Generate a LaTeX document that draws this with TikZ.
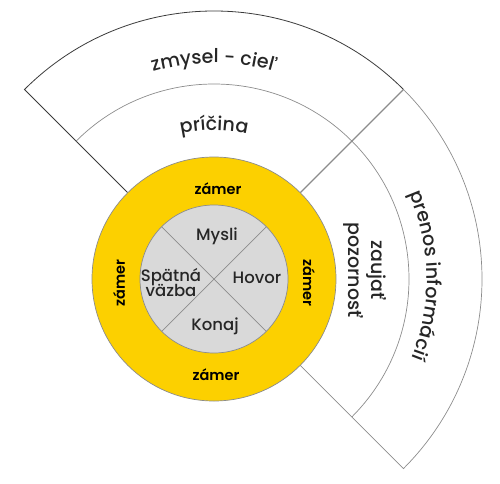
\documentclass[tikz,border=0pt]{standalone}
\usepackage{fontspec}
\setmainfont{Poppins}[UprightFont=* Medium, BoldFont=* SemiBold]
\usepackage{tikz}
\usetikzlibrary{decorations.text}
\definecolor{ringyellow}{HTML}{FCD000}
\definecolor{coregray} {HTML}{D9D9D9}
\definecolor{edgegray} {HTML}{8C8C8C}
\definecolor{edgedark} {HTML}{3A3A3A}
\definecolor{darktext} {HTML}{262626}
\newcommand{\bandfont}{\fontsize{19}{23}\selectfont}
\newcommand{\corefont}{\fontsize{16.5}{18}\selectfont}
\newcommand{\ringfont}{\fontsize{14.5}{17}\selectfont\bfseries}
\tikzset{
  darkedge/.style={draw=edgedark, line width=0.8pt},
  grayedge/.style={draw=edgegray, line width=0.7pt},
  ringdisc/.style={fill=ringyellow, draw=edgegray, line width=0.7pt},
  coredisc/.style={fill=coregray, draw=edgegray, line width=0.7pt},
  corelabel/.style={font=\corefont, text=darktext, align=center, inner sep=0pt},
  ringlabel/.style={font=\ringfont, text=black, inner sep=0pt},
  bandlabel/.style={font=\bandfont, text=darktext, align=center, inner sep=0pt}
}

\begin{document}
\begin{tikzpicture}[x=1pt, y=1pt]
  \useasboundingbox (-214,-204) rectangle (286,279);

  % outer bands
  \draw[darkedge] (135:122) -- (135:268) arc[start angle=135, end angle=45, radius=268];
  \draw[grayedge, line width=1.2pt] (45:268) -- (45:122);
  \draw[grayedge] (135:195) arc[start angle=135, end angle=45, radius=195];
  \draw[grayedge] (45:268) arc[start angle=45, end angle=-45, radius=268] -- (-45:122);
  \draw[grayedge] (45:195) arc[start angle=45, end angle=-45, radius=195];

  \path[decorate, decoration={text along path, text align=center,
        text={|\bandfont\color{darktext}|zmysel - cieľ}}]
    (150:216) arc[start angle=150, end angle=30, radius=216];
  \path[decorate, decoration={text along path, text align=center,
        text={|\bandfont\color{darktext}|príčina}}]
    (125:149) arc[start angle=125, end angle=55, radius=149];
  \path[decorate, decoration={text along path, text align=center,
        text={|\bandfont\color{darktext}|prenos informácií}}]
    (42:213) arc[start angle=42, end angle=-40, radius=213];
  \node[bandlabel, rotate=-90] (attention) at (151,9) {zaujať\\pozornosť};

  % ring and core
  \draw[ringdisc] (0,0) circle[radius=122];
  \draw[coredisc] (0,0) circle[radius=74];
  \draw[grayedge] (135:74) -- (-45:74);
  \draw[grayedge] (45:74) -- (225:74);

  \node[ringlabel] (intentN) at (4,90) {zámer};
  \node[ringlabel] (intentS) at (2,-96) {zámer};
  \node[ringlabel, rotate=90] (intentW) at (-95,-4) {zámer};
  \node[ringlabel, rotate=-90] (intentE) at (95,-4) {zámer};

  \node[corelabel] (thoughts) at (3,43) {Mysli};
  \node[corelabel] (speech) at (43,1) {Hovor};
  \node[corelabel] (action) at (1,-47) {Konaj};
  \node[corelabel] (feedback) at (-43,-3.5) {Spätná\\[-3pt]väzba};
\end{tikzpicture}
\end{document}
